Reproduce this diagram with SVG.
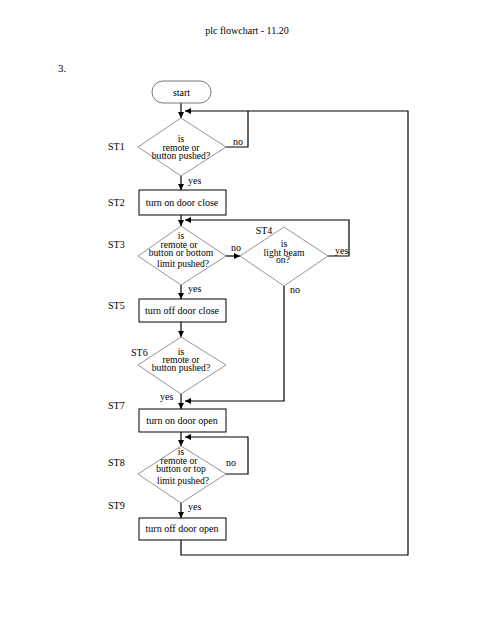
<svg xmlns="http://www.w3.org/2000/svg" width="494" height="640" viewBox="0 0 494 640">
<style>
text{font-family:"Liberation Serif","Times New Roman",serif;font-size:10px;fill:#000}
.c{text-anchor:middle}
.d{font-size:9.6px}
.box{fill:#fff;stroke:#000;stroke-width:1}
.dia{fill:#fff;stroke:#777;stroke-width:0.8}
.ln{fill:none;stroke:#000;stroke-width:1.2}
</style>
<defs>
<marker id="ar" viewBox="0 0 10 10" refX="10" refY="5" markerWidth="7" markerHeight="6" markerUnits="userSpaceOnUse" orient="auto">
<path d="M0,0 L10,5 L0,10 z" fill="#000"/>
</marker>
</defs>
<rect width="494" height="640" fill="#fff"/>
<text class="c" x="247" y="34">plc flowchart - 11.20</text>
<text x="58" y="72" style="font-size:11px">3.</text>

<g id="connectors">
<path class="ln" d="M181,103 V118" marker-end="url(#ar)"/>
<path class="ln" d="M181,540 V555 H408 V111 H185" marker-end="url(#ar)"/>
<path class="ln" d="M226,147 H248 V111"/>
<path class="ln" d="M181,176 V190" marker-end="url(#ar)"/>
<path class="ln" d="M181,215 V226" marker-end="url(#ar)"/>
<path class="ln" d="M328,256 H349 V220 H185" marker-end="url(#ar)"/>
<path class="ln" d="M226,256 H240" marker-end="url(#ar)"/>
<path class="ln" d="M181,285 V299" marker-end="url(#ar)"/>
<path class="ln" d="M181,322 V337" marker-end="url(#ar)"/>
<path class="ln" d="M181,394 V409" marker-end="url(#ar)"/>
<path class="ln" d="M284,286 V401 H185" marker-end="url(#ar)"/>
<path class="ln" d="M181,432 V446" marker-end="url(#ar)"/>
<path class="ln" d="M226,474 H248 V437 H185" marker-end="url(#ar)"/>
<path class="ln" d="M181,503 V518" marker-end="url(#ar)"/>
<text x="233" y="145">no</text>
<text x="188" y="184">yes</text>
<text x="335" y="254">yes</text>
<text x="231" y="251">no</text>
<text x="188" y="292">yes</text>
<text x="290" y="293">no</text>
<text x="160" y="400">yes</text>
<text x="226" y="466">no</text>
<text x="188" y="510">yes</text>
</g>

<g id="start">
<rect x="152" y="81" width="59" height="22" rx="11" class="box" style="stroke:#777"/>
<text class="c" x="181.5" y="95.5">start</text>
</g>

<g id="st1">
<polygon class="dia" points="181,118 226,147 181,176 138,147"/>
<text class="c d" x="181" y="142">is</text>
<text class="c d" x="181" y="150.5">remote or</text>
<text class="c d" x="181" y="159">button pushed?</text>
<text x="108" y="150">ST1</text>
</g>

<g id="st2">
<rect x="139" y="190" width="87" height="25" class="box"/>
<text class="c" x="182" y="206">turn on door close</text>
<text x="108" y="206">ST2</text>
</g>

<g id="st3">
<polygon class="dia" points="181,226 226,256 181,285 138,256"/>
<text class="c d" x="181" y="239">is</text>
<text class="c d" x="179" y="247.5">remote or</text>
<text class="c d" x="181" y="256">button or bottom</text>
<text class="c d" x="183" y="267">limit pushed?</text>
<text x="108" y="248">ST3</text>
</g>

<g id="st4">
<polygon class="dia" points="284,227 328,256 284,286 240,256"/>
<text class="c d" x="284" y="247">is</text>
<text class="c d" x="284" y="255.5">light beam</text>
<text class="c d" x="283" y="263">on?</text>
<text class="c" x="264" y="234">ST4</text>
</g>

<g id="st5">
<rect x="139" y="299" width="87" height="23" class="box"/>
<text class="c" x="182" y="314">turn off door close</text>
<text x="108" y="309">ST5</text>
</g>

<g id="st6">
<polygon class="dia" points="181,337 226,365 181,394 138,365"/>
<text class="c d" x="181" y="355">is</text>
<text class="c d" x="181" y="363">remote or</text>
<text class="c d" x="181" y="371">button pushed?</text>
<text x="131" y="356">ST6</text>
</g>

<g id="st7">
<rect x="139" y="409" width="87" height="23" class="box"/>
<text class="c" x="182" y="424">turn on door open</text>
<text x="108" y="409">ST7</text>
</g>

<g id="st8">
<polygon class="dia" points="181,446 226,474 181,503 138,474"/>
<text class="c d" x="181" y="455">is</text>
<text class="c d" x="179" y="463.5">remote or</text>
<text class="c d" x="181" y="472">button or top</text>
<text class="c d" x="183" y="484">limit pushed?</text>
<text x="108" y="466">ST8</text>
</g>

<g id="st9">
<rect x="139" y="518" width="87" height="22" class="box"/>
<text class="c" x="182" y="532">turn off door open</text>
<text x="108" y="509">ST9</text>
</g>
</svg>
